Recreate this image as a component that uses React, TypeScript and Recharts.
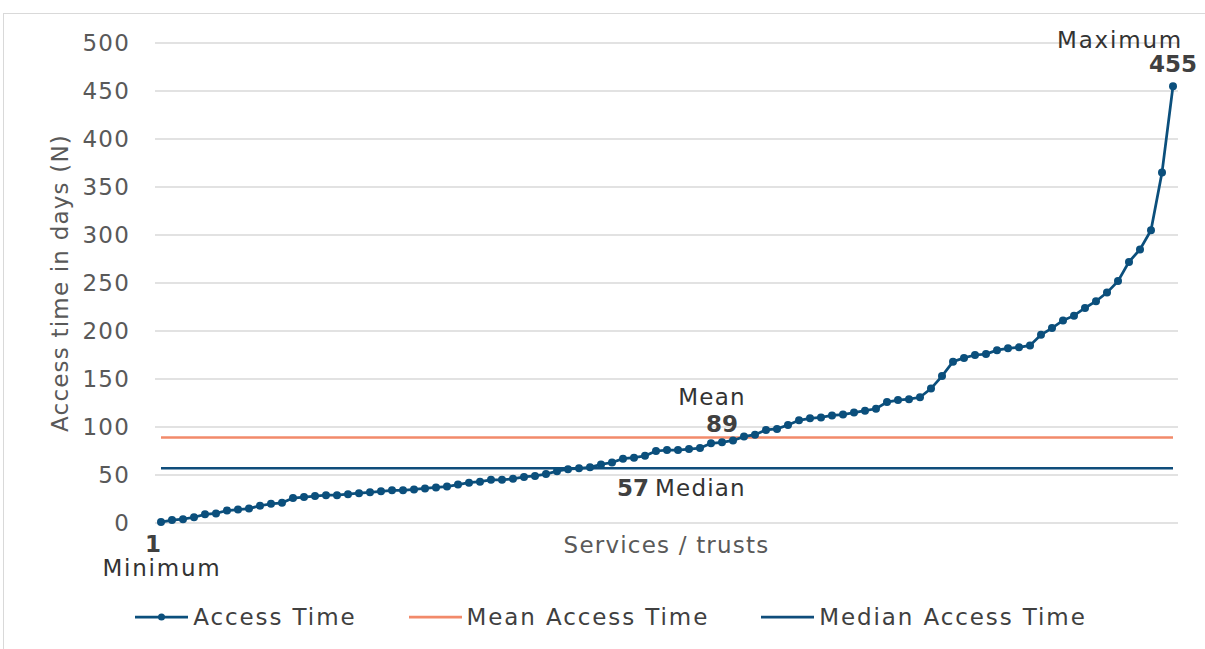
import {
  CartesianGrid,
  Line,
  LineChart,
  ReferenceDot,
  XAxis,
  YAxis,
} from "recharts";

// access time per service / trust, sorted ascending (days)
const accessTimes = [
  1, 3, 4, 6, 9, 10, 13, 14, 15, 18, 20, 21, 26, 27, 28, 29, 29, 30, 31, 32,
  33, 34, 34, 35, 36, 37, 38, 40, 42, 43, 45, 45, 46, 48, 49, 51, 54, 56, 57,
  58, 61, 63, 67, 68, 70, 75, 76, 76, 77, 78, 83, 84, 86, 90, 92, 97, 98, 102,
  107, 109, 110, 112, 113, 115, 117, 119, 126, 128, 129, 131, 140, 153, 168,
  172, 175, 176, 180, 182, 183, 185, 196, 203, 211, 216, 224, 231, 240, 252,
  272, 285, 305, 365, 455,
];
const services = accessTimes.map((_, i) => i + 1);
const meanAccess = 89;
const medianAccess = 57;
const yTicks = [0, 50, 100, 150, 200, 250, 300, 350, 400, 450, 500];

const legendItems = [
  { name: "Access Time", color: "#0b4f7c", dot: true },
  { name: "Mean Access Time", color: "#f28a6a", dot: false },
  { name: "Median Access Time", color: "#0f4d7b", dot: false },
];

const chartData = services.map((s, i) => ({
  service: s,
  access: accessTimes[i],
  mean: meanAccess,
  median: medianAccess,
}));

const FONT = "'DejaVu Sans', sans-serif";
const TXT = "#333333";
const AXIS_TXT = "#595959";

type LabelProps = { viewBox?: { x?: number; y?: number; width?: number; height?: number } };

const MaxLabel = ({ viewBox }: LabelProps) => {
  const cx = viewBox?.x ?? 0;
  const cy = viewBox?.y ?? 0;
  return (
    <g>
      <text x={cx - 53} y={cy - 46} textAnchor="middle" dominantBaseline="central" fill={TXT} fontSize={23} letterSpacing={1.8}>
        Maximum
      </text>
      <text x={cx} y={cy - 22} textAnchor="middle" dominantBaseline="central" fill="#404040" fontSize={23} fontWeight="bold" letterSpacing={0}>
        {accessTimes[accessTimes.length - 1]}
      </text>
    </g>
  );
};

const MinLabel = ({ viewBox }: LabelProps) => {
  const cx = viewBox?.x ?? 0;
  const cy = viewBox?.y ?? 0;
  return (
    <g>
      <text x={cx - 8} y={cy + 22} textAnchor="middle" dominantBaseline="central" fill="#404040" fontSize={23} fontWeight="bold" letterSpacing={0}>
        {accessTimes[0]}
      </text>
      <text x={cx + 1} y={cy + 46} textAnchor="middle" dominantBaseline="central" fill={TXT} fontSize={23} letterSpacing={1.8}>
        Minimum
      </text>
    </g>
  );
};

const MeanLabel = ({ viewBox }: LabelProps) => {
  const cx = viewBox?.x ?? 0;
  const cy = viewBox?.y ?? 0;
  return (
    <g>
      <text x={cx - 10} y={cy - 41} textAnchor="middle" dominantBaseline="central" fill={TXT} fontSize={23}>
        Mean
      </text>
      <text x={cx} y={cy - 14} textAnchor="middle" dominantBaseline="central" fill="#404040" fontSize={23} fontWeight="bold" letterSpacing={0}>
        {meanAccess}
      </text>
    </g>
  );
};

const MedianLabel = ({ viewBox }: LabelProps) => {
  const cx = viewBox?.x ?? 0;
  const cy = viewBox?.y ?? 0;
  return (
    <text x={cx - 17} y={cy + 20} dominantBaseline="central" fill={TXT} fontSize={23}>
      <tspan fontWeight="bold" fill="#404040" letterSpacing={0}>
        {medianAccess}
      </tspan>
      <tspan dx={6}>Median</tspan>
    </text>
  );
};

const YTitle = ({ viewBox }: LabelProps) => {
  const cy = (viewBox?.y ?? 43) + (viewBox?.height ?? 480) / 2;
  return (
    <text
      x={60}
      y={cy}
      textAnchor="middle"
      dominantBaseline="central"
      transform={`rotate(-90, 60, ${cy})`}
      fill={AXIS_TXT}
      fontSize={23}
    >
      Access time in days (N)
    </text>
  );
};

const XTitle = ({ viewBox }: LabelProps) => {
  const cx = (viewBox?.x ?? 155) + (viewBox?.width ?? 1023) / 2;
  const y = (viewBox?.y ?? 523) + 22;
  return (
    <text x={cx} y={y} textAnchor="middle" dominantBaseline="central" fill={AXIS_TXT} fontSize={23}>
      Services / trusts
    </text>
  );
};

export default function App() {
  return (
    <div
      style={{
        position: "absolute",
        left: 0,
        top: 0,
        width: 1205,
        height: 649,
        overflow: "hidden",
        background: "#fff",
        fontFamily: FONT,
        letterSpacing: "1.2px",
      }}
    >
      <div
        style={{
          position: "absolute",
          left: 3,
          top: 13,
          right: 0,
          bottom: 0,
          borderLeft: "1.5px solid #d9d9d9",
          borderTop: "1.5px solid #d9d9d9",
        }}
      />
      <div style={{ position: "absolute", left: 0, top: 0 }}>
        <LineChart
          width={1205}
          height={649}
          data={chartData}
          margin={{ top: 43, right: 27, bottom: 86, left: 0 }}
        >
          <CartesianGrid vertical={false} stroke="#d9d9d9" strokeWidth={1.5} />
          <XAxis
            dataKey="service"
            type="category"
            height={40}
            axisLine={false}
            tickLine={false}
            tick={false}
            padding={{ left: 6, right: 5 }}
            label={(p: LabelProps) => <XTitle {...p} />}
          />
          <YAxis
            width={155}
            domain={[0, 500]}
            ticks={yTicks}
            interval={0}
            axisLine={false}
            tickLine={false}
            tickSize={0}
            tickMargin={25}
            tick={{ fill: AXIS_TXT, fontSize: 23, fontFamily: FONT }}
            label={(p: LabelProps) => <YTitle {...p} />}
          />
          <Line
            dataKey="mean"
            name="Mean Access Time"
            stroke={legendItems[1].color}
            strokeWidth={2.5}
            dot={false}
            activeDot={false}
            isAnimationActive={false}
          />
          <Line
            dataKey="median"
            name="Median Access Time"
            stroke={legendItems[2].color}
            strokeWidth={2.5}
            dot={false}
            activeDot={false}
            isAnimationActive={false}
          />
          <Line
            dataKey="access"
            name="Access Time"
            stroke={legendItems[0].color}
            strokeWidth={2.75}
            dot={{ r: 4, fill: legendItems[0].color, stroke: legendItems[0].color, strokeWidth: 0 }}
            activeDot={false}
            isAnimationActive={false}
          />
          <ReferenceDot
            x={services[services.length - 1]}
            y={accessTimes[accessTimes.length - 1]}
            r={0}
            stroke="none"
            fill="none"
            label={(p: LabelProps) => <MaxLabel {...p} />}
          />
          <ReferenceDot
            x={services[0]}
            y={accessTimes[0]}
            r={0}
            stroke="none"
            fill="none"
            label={(p: LabelProps) => <MinLabel {...p} />}
          />
          <ReferenceDot
            x={services[51]}
            y={meanAccess}
            r={0}
            stroke="none"
            fill="none"
            label={(p: LabelProps) => <MeanLabel {...p} />}
          />
          <ReferenceDot
            x={services[43]}
            y={medianAccess}
            r={0}
            stroke="none"
            fill="none"
            label={(p: LabelProps) => <MedianLabel {...p} />}
          />
        </LineChart>
      </div>
      <div
        style={{
          position: "absolute",
          left: 0,
          top: 603,
          width: 1222,
          height: 28,
          display: "flex",
          justifyContent: "center",
          alignItems: "center",
          gap: 52,
          fontSize: 23,
          color: "#404040",
          letterSpacing: "1.9px",
        }}
      >
        {legendItems.map((item) => (
          <div key={item.name} style={{ display: "flex", alignItems: "center" }}>
            <svg width={53} height={12} style={{ marginRight: 5 }}>
              <line x1={0} y1={6} x2={53} y2={6} stroke={item.color} strokeWidth={2.75} />
              {item.dot && <circle cx={26.5} cy={6} r={3.5} fill={item.color} />}
            </svg>
            <span>{item.name}</span>
          </div>
        ))}
      </div>
    </div>
  );
}
